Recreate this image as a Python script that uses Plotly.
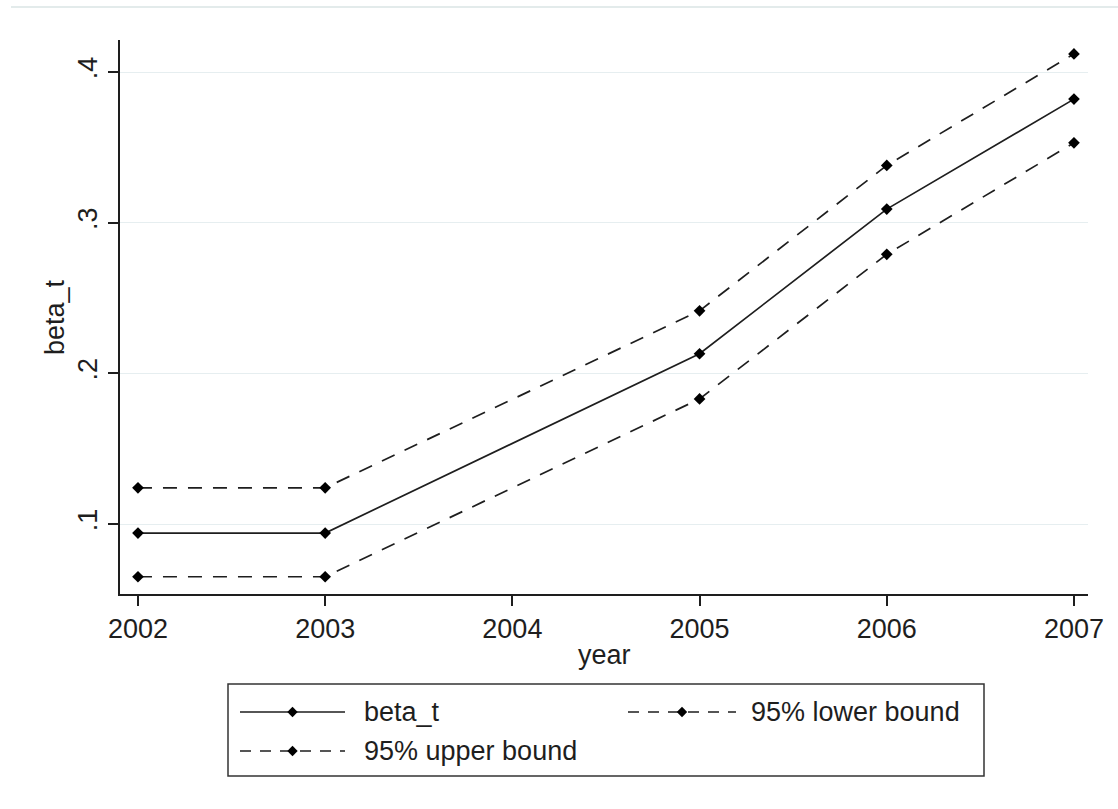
import plotly.graph_objects as go

# Estimated coefficient path with 95% confidence band
years = [2002, 2003, 2005, 2006, 2007]
beta_t = [0.094, 0.094, 0.213, 0.309, 0.382]
lower_95 = [0.065, 0.065, 0.183, 0.279, 0.353]
upper_95 = [0.124, 0.124, 0.2415, 0.338, 0.412]

x_ticks = [2002, 2003, 2004, 2005, 2006, 2007]
y_ticks = [0.1, 0.2, 0.3, 0.4]
y_tick_text = [".1", ".2", ".3", ".4"]

series_names = ["beta_t", "95% lower bound", "95% upper bound"]

W, H = 1118, 809
FONT = "Liberation Sans, Arial, sans-serif"
INK = "#1e1e1e"
GRID = "#e6eef0"


def px(x):
    return x / W


def py(y):
    return 1 - y / H


fig = go.Figure()

line_styles = [
    (beta_t, "solid"),
    (lower_95, "14px,11px"),
    (upper_95, "14px,11px"),
]
for name, (vals, dash) in zip(series_names, line_styles):
    fig.add_trace(go.Scatter(
        x=years, y=vals, name=name, mode="lines+markers",
        line=dict(color=INK, width=1.7, dash=dash),
        marker=dict(symbol="diamond", size=9, color="#000000"),
        showlegend=False,
    ))

# Legend drawn in pixel space on a hidden overlay axis
legend_rows = [712, 712, 751]
legend_sample_x = [(240, 345), (628, 736), (240, 345)]
legend_text_x = [362, 749, 362]
legend_dash = ["solid", "11px,9px", "11px,9px"]
for name, row, (x0, x1), dash in zip(series_names, legend_rows, legend_sample_x, legend_dash):
    fig.add_trace(go.Scatter(
        x=[x0, x1], y=[row, row], mode="lines", xaxis="x2", yaxis="y2",
        line=dict(color=INK, width=1.7, dash=dash), showlegend=False,
        hoverinfo="skip",
    ))
    fig.add_trace(go.Scatter(
        x=[(x0 + x1) / 2], y=[row], mode="markers", xaxis="x2", yaxis="y2",
        marker=dict(symbol="diamond", size=8, color="#000000"),
        showlegend=False, hoverinfo="skip",
    ))

annotations = []
for name, row, tx in zip(series_names, legend_rows, legend_text_x):
    annotations.append(dict(
        x=px(tx), y=py(row), xref="paper", yref="paper", text=name,
        showarrow=False, xanchor="left", yanchor="middle",
        font=dict(family=FONT, size=27, color=INK),
    ))

# Axis titles
annotations.append(dict(
    x=px(604), y=py(655), xref="paper", yref="paper", text="year",
    showarrow=False, xanchor="center", yanchor="middle",
    font=dict(family=FONT, size=27, color=INK),
))
annotations.append(dict(
    x=px(55), y=py(317), xref="paper", yref="paper", text="beta_t",
    showarrow=False, xanchor="center", yanchor="middle", textangle=-90,
    font=dict(family=FONT, size=27, color=INK),
))

shapes = [
    # legend frame
    dict(type="rect", xref="paper", yref="paper",
         x0=px(228), x1=px(984), y0=py(684), y1=py(776),
         line=dict(color="#333333", width=1.5), fillcolor="rgba(0,0,0,0)"),
    # outer graph border along the top
    dict(type="line", xref="paper", yref="paper",
         x0=px(11), x1=1, y0=py(7), y1=py(7),
         line=dict(color="#e3ebeb", width=2)),
]

fig.update_layout(
    width=W, height=H,
    margin=dict(l=0, r=0, t=0, b=0),
    paper_bgcolor="white", plot_bgcolor="rgba(0,0,0,0)",
    font=dict(family=FONT, size=27, color=INK),
    showlegend=False,
    annotations=annotations,
    shapes=shapes,
    xaxis=dict(
        domain=[px(120), px(1088)],
        range=[2001.904, 2007.075],
        tickvals=x_ticks, ticktext=[str(v) for v in x_ticks],
        ticks="outside", ticklen=10, tickwidth=1.5, tickcolor=INK,
        showline=True, linecolor=INK, linewidth=1.8,
        showgrid=False, zeroline=False,
        tickfont=dict(family=FONT, size=27, color=INK),
        automargin=False,
    ),
    yaxis=dict(
        domain=[py(594), py(40)],
        range=[0.05354, 0.42124],
        tickvals=y_ticks, ticktext=y_tick_text, tickangle=-90,
        ticks="outside", ticklen=10, tickwidth=1.5, tickcolor=INK,
        showline=True, linecolor=INK, linewidth=1.8,
        showgrid=True, gridcolor=GRID, gridwidth=1,
        zeroline=False,
        tickfont=dict(family=FONT, size=27, color=INK),
        automargin=False,
    ),
    xaxis2=dict(domain=[0, 1], range=[0, W], anchor="y2", visible=False,
                fixedrange=True),
    yaxis2=dict(domain=[0, 1], range=[H, 0], anchor="x2", visible=False,
                fixedrange=True),
)

fig.write_html("out.html")
